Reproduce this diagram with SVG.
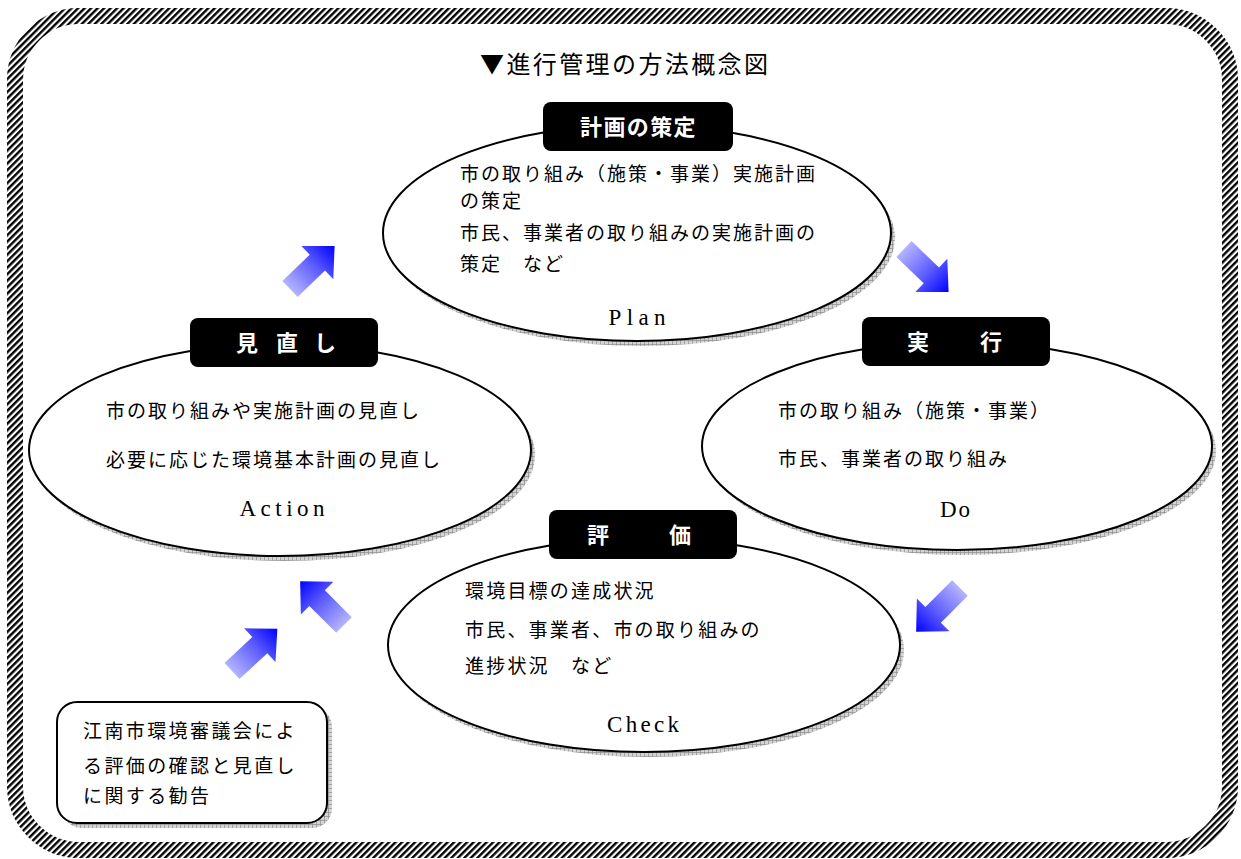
<svg xmlns="http://www.w3.org/2000/svg" width="1241" height="859" viewBox="0 0 1241 859">
<defs>
<pattern id="hatch" width="4.6" height="10" patternUnits="userSpaceOnUse" patternTransform="rotate(45)">
<rect width="4.6" height="10" fill="#ffffff"/>
<rect width="2.4" height="10" fill="#000000"/>
</pattern>
<pattern id="grid" width="4" height="4" patternUnits="userSpaceOnUse">
<rect width="4" height="4" fill="#d4d4d4"/>
<path d="M0,0.5H4M0.5,0V4" stroke="#8c8c8c" stroke-width="0.7"/>
</pattern>
<linearGradient id="ag" x1="0" y1="0" x2="1" y2="0">
<stop offset="0" stop-color="#b4b4ff"/>
<stop offset="0.55" stop-color="#5a5aff"/>
<stop offset="1" stop-color="#0000ff"/>
</linearGradient>
<path id="arrow" d="M0,-11 H38 V-23 L62,0 L38,23 V11 H0 Z" fill="url(#ag)"/>
<style>
.body{font-family:"Noto Sans CJK JP","Noto Sans CJK SC",sans-serif;font-size:19px;letter-spacing:2px;fill:#000}
.lbl{font-family:"Noto Sans CJK JP","Noto Sans CJK SC",sans-serif;font-size:22px;font-weight:bold;fill:#fff}
.en{font-family:"Liberation Serif",serif;font-size:23px;fill:#000;text-anchor:middle}
.ell{fill:#fff;stroke:#000;stroke-width:2}
.shd{fill:url(#grid)}
.box{fill:#000}
</style>
</defs>
<rect x="0" y="0" width="1241" height="859" fill="#fff"/>
<rect x="15" y="16" width="1215" height="834" rx="64" ry="64" fill="#fff" stroke="url(#hatch)" stroke-width="16"/>
<text x="480" y="73" style="font-family:'Noto Sans CJK JP','Noto Sans CJK SC',sans-serif;font-size:24px;letter-spacing:2.4px">▼進行管理の方法概念図</text>

<g id="plan">
<ellipse class="shd" cx="641" cy="238" rx="254" ry="108"/>
<ellipse class="ell" cx="637" cy="233" rx="254" ry="108"/>
<rect class="box" x="543" y="102" width="190" height="49" rx="8"/>
<text class="lbl" x="580" y="135" style="letter-spacing:1.4px">計画の策定</text>
<text class="body" x="460" y="181">市の取り組み（施策・事業）実施計画</text>
<text class="body" x="460" y="208">の策定</text>
<text class="body" x="460" y="240">市民、事業者の取り組みの実施計画の</text>
<text class="body" x="460" y="271">策定　など</text>
<text class="en" x="637" y="325" textLength="57" lengthAdjust="spacing">Plan</text>
</g>

<g id="do">
<ellipse class="shd" cx="961" cy="451" rx="255" ry="104"/>
<ellipse class="ell" cx="957" cy="446" rx="255" ry="104"/>
<rect class="box" x="862" y="317" width="188" height="49" rx="8"/>
<text class="lbl" x="907 980" y="350">実行</text>
<text class="body" x="778" y="418">市の取り組み（施策・事業）</text>
<text class="body" x="778" y="466">市民、事業者の取り組み</text>
<text class="en" x="955" y="517" textLength="30" lengthAdjust="spacing">Do</text>
</g>

<g id="action">
<ellipse class="shd" cx="284" cy="455" rx="251" ry="106"/>
<ellipse class="ell" cx="280" cy="450" rx="251" ry="106"/>
<rect class="box" x="190" y="318" width="188" height="49" rx="8"/>
<text class="lbl" x="236 276 314" y="351">見直し</text>
<text class="body" x="106" y="418">市の取り組みや実施計画の見直し</text>
<text class="body" x="106" y="467">必要に応じた環境基本計画の見直し</text>
<text class="en" x="282" y="516" textLength="85" lengthAdjust="spacing">Action</text>
</g>

<g id="check">
<ellipse class="shd" cx="648" cy="650" rx="256" ry="107"/>
<ellipse class="ell" cx="644" cy="645" rx="256" ry="107"/>
<rect class="box" x="549" y="510" width="188" height="49" rx="8"/>
<text class="lbl" x="587 669" y="543">評価</text>
<text class="body" x="465" y="598" style="letter-spacing:2.2px">環境目標の達成状況</text>
<text class="body" x="465" y="637" style="letter-spacing:2.2px">市民、事業者、市の取り組みの</text>
<text class="body" x="465" y="673" style="letter-spacing:2.2px">進捗状況　など</text>
<text class="en" x="643" y="732" textLength="72" lengthAdjust="spacing">Check</text>
</g>

<g id="council">
<rect x="62" y="707" width="270" height="121" rx="20" fill="url(#grid)"/>
<rect x="57" y="702" width="270" height="121" rx="20" fill="#fff" stroke="#000" stroke-width="2"/>
<text class="body" x="83" y="738" style="letter-spacing:2.4px">江南市環境審議会によ</text>
<text class="body" x="83" y="773" style="letter-spacing:2.4px">る評価の確認と見直し</text>
<text class="body" x="83" y="803" style="letter-spacing:2.4px">に関する勧告</text>
</g>

<g id="connectors">
<use href="#arrow" transform="translate(290,289) rotate(-44)"/>
<use href="#arrow" transform="translate(904,249) rotate(44)"/>
<use href="#arrow" transform="translate(960,588) rotate(135)"/>
<use href="#arrow" transform="translate(344,625) rotate(-135)"/>
<use href="#arrow" transform="translate(232,671) rotate(-43)"/>
</g>
</svg>
